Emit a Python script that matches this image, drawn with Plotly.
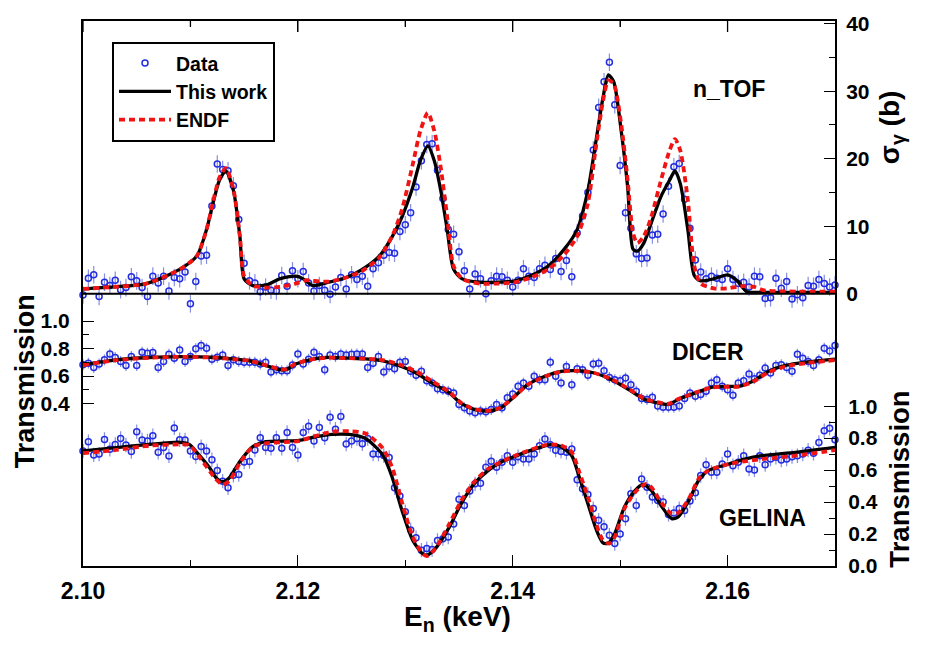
import plotly.graph_objects as go

# ---------------- data ----------------
energy = [round(2.100 + 0.0005 * i, 4) for i in range(141)]  # keV bin centres

sigma_data = [
    -0.2, 2.3, 2.8, -0.4, 1.7, 1.2, 2.0, 0.6, 0.9, 2.5,
    1.9, 0.9, -0.4, 2.6, 1.6, 2.6, 0.4, 2.4, 2.2, 3.2,
    -1.5, 1.8, 5.6, 5.7, 13.0, 19.2, 18.4, 18.2, 16.0, 11.0,
    4.5, 1.9, 1.6, 0.3, 1.0, 0.5, 0.4, 2.7, 1.1, 3.4,
    2.2, 3.3, 1.6, 0.4, 1.2, 0.5, -0.1, 1.0, 2.4, 0.7,
    2.8, 2.1, 2.6, 1.1, 3.7, 4.6, 5.7, 6.1, 6.0, 9.2,
    10.2, 12.0, 15.8, 19.7, 22.1, 22.2, 18.3, 14.1, 9.5, 8.8,
    6.2, 3.4, 0.7, 2.9, 2.2, 0.0, 1.9, 2.6, 2.5, 2.0,
    1.0, 2.0, 3.7, 2.6, 2.4, 3.7, 4.2, 3.6, 5.2, 3.3,
    4.9, 2.5, 9.0, 11.5, 15.0, 21.3, 27.6, 31.4, 34.3, 28.0,
    19.0, 12.0, 9.7, 5.9, 5.2, 5.3, 8.7, 8.8, 11.8, 15.9,
    18.8, 19.3, 14.0, 9.7, 5.0, 3.2, 2.2, 2.6, 2.3, 2.1,
    3.7, 2.1, 1.5, 1.7, 1.0, 2.6, 2.5, -0.7, -0.6, 2.3,
    0.8, 1.8, -0.8, -0.15, -0.6, 1.2, 1.1, 2.1, 1.5, 1.0,
    1.3,
]

dicer_data = [
    0.682, 0.694, 0.663, 0.687, 0.718, 0.761, 0.735, 0.706, 0.677, 0.742,
    0.677, 0.773, 0.766, 0.771, 0.663, 0.706, 0.759, 0.730, 0.790, 0.706,
    0.742, 0.798, 0.822, 0.802, 0.723, 0.737, 0.754, 0.677, 0.718, 0.706,
    0.701, 0.701, 0.701, 0.687, 0.701, 0.629, 0.646, 0.639, 0.639, 0.680,
    0.761, 0.687, 0.723, 0.773, 0.742, 0.646, 0.754, 0.742, 0.761, 0.754,
    0.759, 0.761, 0.761, 0.663, 0.694, 0.742, 0.629, 0.670, 0.653, 0.701,
    0.706, 0.634, 0.605, 0.634, 0.566, 0.550, 0.508, 0.501, 0.489, 0.477,
    0.393, 0.369, 0.345, 0.333, 0.345, 0.340, 0.357, 0.393, 0.369, 0.441,
    0.470, 0.525, 0.549, 0.525, 0.598, 0.573, 0.573, 0.701, 0.598, 0.549,
    0.670, 0.537, 0.653, 0.646, 0.605, 0.687, 0.694, 0.639, 0.590, 0.573,
    0.566, 0.585, 0.537, 0.489, 0.436, 0.429, 0.446, 0.381, 0.373, 0.373,
    0.373, 0.381, 0.436, 0.477, 0.453, 0.465, 0.489, 0.549, 0.573, 0.525,
    0.501, 0.460, 0.549, 0.566, 0.614, 0.581, 0.605, 0.658, 0.622, 0.677,
    0.682, 0.663, 0.634, 0.759, 0.730, 0.706, 0.677, 0.718, 0.802, 0.783,
    0.822,
]

gelina_data = [
    0.720, 0.778, 0.695, 0.700, 0.792, 0.730, 0.760, 0.798, 0.757, 0.716,
    0.840, 0.788, 0.782, 0.815, 0.712, 0.741, 0.689, 0.864, 0.790, 0.788,
    0.720, 0.685, 0.747, 0.720, 0.665, 0.597, 0.531, 0.490, 0.568, 0.572,
    0.650, 0.654, 0.726, 0.802, 0.741, 0.737, 0.802, 0.737, 0.835, 0.741,
    0.695, 0.835, 0.874, 0.782, 0.866, 0.802, 0.930, 0.856, 0.936, 0.763,
    0.782, 0.798, 0.765, 0.798, 0.700, 0.700, 0.691, 0.679, 0.490, 0.438,
    0.340, 0.226, 0.177, 0.099, 0.109, 0.103, 0.160, 0.171, 0.181, 0.263,
    0.418, 0.379, 0.470, 0.514, 0.518, 0.618, 0.655, 0.618, 0.649, 0.690,
    0.649, 0.684, 0.669, 0.669, 0.700, 0.752, 0.794, 0.759, 0.725, 0.717,
    0.711, 0.732, 0.539, 0.483, 0.448, 0.359, 0.286, 0.245, 0.193, 0.141,
    0.200, 0.296, 0.452, 0.379, 0.545, 0.493, 0.431, 0.410, 0.400, 0.323,
    0.332, 0.359, 0.348, 0.406, 0.458, 0.566, 0.634, 0.587, 0.587, 0.638,
    0.700, 0.628, 0.649, 0.690, 0.607, 0.601, 0.690, 0.634, 0.669, 0.680,
    0.663, 0.669, 0.684, 0.690, 0.700, 0.725, 0.705, 0.773, 0.846, 0.862,
    0.790,
]

# uncertainties (constant per data set)
sigma_err = 1.3
dicer_err = 0.04
gelina_err = 0.045

# n_TOF capture cross section curves
ntof_fit_e = [2.1000, 2.1028, 2.1059, 2.1090, 2.1106, 2.1115, 2.1121, 2.1127, 2.1133, 2.1140,
              2.1146, 2.1150, 2.1158, 2.1171, 2.1183, 2.1198, 2.1205, 2.1214, 2.1229, 2.1245,
              2.1260, 2.1276, 2.1288, 2.1297, 2.1307, 2.1314, 2.1321, 2.1327, 2.1333, 2.1339,
              2.1345, 2.1353, 2.1369, 2.1386, 2.1402, 2.1417, 2.1433, 2.1448, 2.1460, 2.1470,
              2.1477, 2.1484, 2.1489, 2.1494, 2.1501, 2.1507, 2.1512, 2.1516, 2.1522, 2.1529,
              2.1538, 2.1546, 2.1551, 2.1556, 2.1563, 2.1569, 2.1575, 2.1587, 2.1600, 2.1609,
              2.1618, 2.1634, 2.1700]
ntof_fit = [0.7, 1.0, 1.5, 3.6, 5.6, 9.5, 13.4, 16.8, 18.2, 15.3,
            8.5, 2.2, 1.2, 1.3, 2.2, 2.6, 2.2, 1.2, 1.7, 2.4,
            3.6, 5.6, 8.5, 11.4, 15.8, 19.7, 21.9, 19.7, 15.3, 9.5,
            3.6, 2.2, 1.7, 1.7, 1.9, 2.7, 4.1, 6.6, 9.5, 15.3,
            22.1, 29.0, 32.4, 31.4, 24.1, 15.8, 6.6, 6.3, 7.5, 10.5,
            14.4, 16.8, 18.2, 16.3, 9.5, 2.7, 1.9, 2.2, 2.8, 1.9,
            0.3, 0.2, 0.2]

ntof_endf_e = [2.1000, 2.1028, 2.1059, 2.1090, 2.1106, 2.1115, 2.1121, 2.1127, 2.1133, 2.1140,
               2.1146, 2.1150, 2.1158, 2.1171, 2.1183, 2.1198, 2.1208, 2.1214, 2.1229, 2.1245,
               2.1260, 2.1276, 2.1288, 2.1297, 2.1307, 2.1314, 2.1321, 2.1327, 2.1333, 2.1339,
               2.1345, 2.1353, 2.1369, 2.1386, 2.1402, 2.1417, 2.1433, 2.1448, 2.1460, 2.1470,
               2.1477, 2.1484, 2.1489, 2.1494, 2.1501, 2.1507, 2.1512, 2.1516, 2.1522, 2.1529,
               2.1538, 2.1546, 2.1551, 2.1556, 2.1563, 2.1569, 2.1575, 2.1587, 2.1600, 2.1612,
               2.1625, 2.1634, 2.1700]
ntof_endf = [0.7, 1.0, 1.5, 3.6, 5.6, 9.5, 13.6, 17.2, 18.6, 15.5,
             8.5, 2.6, 1.2, 0.9, 1.0, 1.5, 2.0, 1.9, 1.8, 2.4,
             3.4, 5.4, 8.6, 12.5, 19.2, 24.1, 26.8, 24.1, 18.7, 11.4,
             4.1, 2.2, 1.5, 1.5, 1.7, 2.4, 3.6, 5.8, 8.5, 13.4,
             21.2, 28.5, 31.6, 31.1, 25.1, 16.8, 9.0, 7.5, 8.5, 11.4,
             16.8, 21.2, 22.9, 21.2, 13.9, 4.1, 1.5, 0.8, 0.8, 1.1,
             1.0, 0.5, 0.3]

# DICER transmission curves
dicer_fit_e = [2.1000, 2.1031, 2.1062, 2.1093, 2.1124, 2.1139, 2.1155, 2.1170, 2.1183, 2.1189,
               2.1198, 2.1211, 2.1226, 2.1248, 2.1263, 2.1279, 2.1294, 2.1310, 2.1325, 2.1341,
               2.1352, 2.1364, 2.1377, 2.1389, 2.1402, 2.1414, 2.1430, 2.1445, 2.1461, 2.1476,
               2.1492, 2.1508, 2.1523, 2.1539, 2.1545, 2.1554, 2.1570, 2.1585, 2.1601, 2.1610,
               2.1623, 2.1638, 2.1654, 2.1673, 2.1700]
dicer_fit = [0.682, 0.718, 0.735, 0.742, 0.735, 0.725, 0.711, 0.677, 0.646, 0.646,
             0.687, 0.718, 0.735, 0.730, 0.725, 0.711, 0.677, 0.622, 0.549, 0.477,
             0.400, 0.357, 0.345, 0.369, 0.453, 0.537, 0.598, 0.634, 0.639, 0.622,
             0.573, 0.501, 0.429, 0.398, 0.393, 0.429, 0.477, 0.518, 0.525, 0.525,
             0.561, 0.634, 0.677, 0.701, 0.723]
dicer_endf = [0.680, 0.716, 0.733, 0.740, 0.733, 0.724, 0.711, 0.680, 0.650, 0.650,
              0.689, 0.718, 0.733, 0.730, 0.727, 0.716, 0.686, 0.634, 0.562, 0.484,
              0.405, 0.360, 0.347, 0.372, 0.455, 0.537, 0.596, 0.632, 0.637, 0.622,
              0.577, 0.506, 0.434, 0.402, 0.397, 0.432, 0.479, 0.516, 0.522, 0.523,
              0.556, 0.627, 0.670, 0.694, 0.716]

# GELINA transmission curves
gelina_fit_e = [2.1000, 2.1031, 2.1062, 2.1090, 2.1099, 2.1108, 2.1118, 2.1124, 2.1130, 2.1136,
                2.1146, 2.1158, 2.1170, 2.1189, 2.1201, 2.1217, 2.1232, 2.1248, 2.1263, 2.1279,
                2.1288, 2.1297, 2.1307, 2.1316, 2.1320, 2.1328, 2.1341, 2.1352, 2.1364, 2.1377,
                2.1389, 2.1402, 2.1414, 2.1430, 2.1436, 2.1445, 2.1455, 2.1462, 2.1470, 2.1478,
                2.1484, 2.1489, 2.1495, 2.1504, 2.1514, 2.1521, 2.1529, 2.1539, 2.1548, 2.1554,
                2.1564, 2.1573, 2.1582, 2.1601, 2.1616, 2.1632, 2.1663, 2.1700]
gelina_fit = [0.720, 0.741, 0.761, 0.774, 0.761, 0.695, 0.613, 0.551, 0.527, 0.551,
              0.654, 0.747, 0.778, 0.782, 0.786, 0.809, 0.823, 0.823, 0.798, 0.695,
              0.551, 0.346, 0.160, 0.078, 0.068, 0.109, 0.243, 0.390, 0.514, 0.597,
              0.649, 0.686, 0.717, 0.752, 0.759, 0.746, 0.690, 0.555, 0.390, 0.224,
              0.145, 0.141, 0.203, 0.369, 0.473, 0.510, 0.473, 0.369, 0.296, 0.307,
              0.410, 0.535, 0.597, 0.638, 0.669, 0.690, 0.711, 0.742]

gelina_endf_e = [2.1000, 2.1031, 2.1062, 2.1090, 2.1099, 2.1108, 2.1124, 2.1130, 2.1136, 2.1146,
                 2.1158, 2.1170, 2.1201, 2.1217, 2.1232, 2.1248, 2.1263, 2.1279, 2.1288, 2.1297,
                 2.1307, 2.1316, 2.1320, 2.1328, 2.1341, 2.1352, 2.1364, 2.1377, 2.1402, 2.1430,
                 2.1439, 2.1445, 2.1455, 2.1462, 2.1470, 2.1478, 2.1484, 2.1490, 2.1495, 2.1504,
                 2.1514, 2.1524, 2.1529, 2.1539, 2.1548, 2.1554, 2.1564, 2.1573, 2.1582, 2.1601,
                 2.1616, 2.1632, 2.1663, 2.1700]
gelina_endf = [0.706, 0.726, 0.753, 0.761, 0.757, 0.685, 0.541, 0.510, 0.531, 0.644,
               0.747, 0.767, 0.782, 0.815, 0.840, 0.844, 0.829, 0.737, 0.613, 0.397,
               0.181, 0.078, 0.062, 0.109, 0.263, 0.407, 0.524, 0.607, 0.690, 0.756,
               0.759, 0.756, 0.711, 0.587, 0.431, 0.255, 0.162, 0.141, 0.182, 0.359,
               0.462, 0.514, 0.493, 0.390, 0.327, 0.332, 0.421, 0.545, 0.597, 0.638,
               0.655, 0.669, 0.690, 0.725]

x_ticks = [2.10, 2.12, 2.14, 2.16]
x_minor = [2.11, 2.13, 2.15]
sigma_ticks = [0, 10, 20, 30, 40]
sigma_minor = [5, 15, 25, 35]
dicer_ticks = [0.4, 0.6, 0.8, 1.0]
dicer_minor = [0.5, 0.7, 0.9]
gelina_ticks = [0.0, 0.2, 0.4, 0.6, 0.8, 1.0]
gelina_minor = [0.1, 0.3, 0.5, 0.7, 0.9]

# ---------------- styling ----------------
FONT = "Liberation Sans, Arial, Helvetica, sans-serif"
BLUE = "rgb(35,45,225)"
ERR = "rgba(95,105,215,0.75)"
W, H = 925, 649
L, R, T, B = 83, 835, 17, 566
PW, PH = R - L, B - T


def px(xp):
    return (xp - L) / PW


def py(yp):
    return (B - yp) / PH


fig = go.Figure()

marker = dict(symbol="circle-open", size=6, color=BLUE, line=dict(width=1.5, color=BLUE))

for yv, err, ax, show in [(sigma_data, sigma_err, "y", True),
                          (dicer_data, dicer_err, "y2", False),
                          (gelina_data, gelina_err, "y3", False)]:
    fig.add_trace(go.Scatter(
        x=energy, y=yv, mode="markers", name="Data", yaxis=ax, showlegend=show,
        legendgroup="data", marker=marker, cliponaxis=False,
        error_y=dict(type="constant", value=err, color=ERR, thickness=1.2, width=0)))

for xe, yv, ax, show in [(ntof_fit_e, ntof_fit, "y", True),
                         (dicer_fit_e, dicer_fit, "y2", False),
                         (gelina_fit_e, gelina_fit, "y3", False)]:
    fig.add_trace(go.Scatter(
        x=xe, y=yv, mode="lines", name="This work", yaxis=ax, showlegend=show,
        legendgroup="fit", line=dict(color="black", width=3.3, shape="spline", smoothing=0.7)))

for xe, yv, ax, show in [(ntof_endf_e, ntof_endf, "y", True),
                         (dicer_fit_e, dicer_endf, "y2", False),
                         (gelina_endf_e, gelina_endf, "y3", False)]:
    fig.add_trace(go.Scatter(
        x=xe, y=yv, mode="lines", name="ENDF", yaxis=ax, showlegend=show,
        legendgroup="endf", line=dict(color="rgb(240,20,20)", width=3.8, dash="6px,4px",
                                      shape="spline", smoothing=0.7)))

# axis scale: sigma 0 at pixel 291.7, 6.8 px per barn
s_lo = -(B - 291.7) / 6.8
s_hi = (291.7 - T) / 6.8
# DICER: 0.4 at pixel 402.3, 138.3 px per unit
d_lo = 0.4 - (B - 402.3) / 138.3
d_hi = 0.4 + (402.3 - T) / 138.3
# GELINA: 0 at bottom, 161 px per unit
g_hi = PH / 161.0

tickfont_y = dict(family=FONT, size=21, color="black", weight="bold")
tickfont_x = dict(family=FONT, size=23, color="black", weight="bold")

fig.update_layout(
    width=W, height=H, autosize=False,
    margin=dict(l=L, r=W - R, t=T, b=H - B, pad=0),
    paper_bgcolor="white", plot_bgcolor="white",
    font=dict(family=FONT, color="black"),
    xaxis=dict(range=[2.10, 2.17], tickvals=x_ticks, ticktext=["%.2f" % v for v in x_ticks],
               ticks="inside", ticklen=11, tickwidth=1.3, tickcolor="black",
               minor=dict(tickvals=x_minor, ticks="inside", ticklen=6, tickwidth=1.3, tickcolor="black"),
               showline=True, linewidth=2, linecolor="black", mirror="ticks",
               showgrid=False, zeroline=False, tickfont=tickfont_x, ticklabelstandoff=3),
    yaxis=dict(range=[s_lo, s_hi], side="right", tickvals=sigma_ticks,
               ticktext=[str(v) for v in sigma_ticks],
               ticks="inside", ticklen=11, tickwidth=1.3, tickcolor="black",
               minor=dict(tickvals=sigma_minor, ticks="inside", ticklen=6, tickwidth=1.3, tickcolor="black"),
               showline=True, linewidth=2, linecolor="black",
               showgrid=False, zeroline=False, tickfont=tickfont_y, ticklabelstandoff=5),
    yaxis2=dict(range=[d_lo, d_hi], side="left", overlaying="y", tickvals=dicer_ticks,
                ticktext=["%.1f" % v for v in dicer_ticks],
                ticks="inside", ticklen=11, tickwidth=1.3, tickcolor="black",
                minor=dict(tickvals=dicer_minor, ticks="inside", ticklen=6, tickwidth=1.3, tickcolor="black"),
                showline=True, linewidth=2, linecolor="black",
                showgrid=False, zeroline=False, tickfont=tickfont_y, ticklabelstandoff=7),
    yaxis3=dict(range=[0, g_hi], side="right", overlaying="y", tickvals=gelina_ticks,
                ticktext=["%.1f" % v for v in gelina_ticks],
                ticks="inside", ticklen=11, tickwidth=1.3, tickcolor="black",
                minor=dict(tickvals=gelina_minor, ticks="inside", ticklen=6, tickwidth=1.3, tickcolor="black"),
                showline=True, linewidth=2, linecolor="black",
                showgrid=False, zeroline=False, tickfont=tickfont_y, ticklabelstandoff=7),
    legend=dict(x=px(112), y=py(38), xanchor="left", yanchor="top",
                bgcolor="white", bordercolor="black", borderwidth=2,
                font=dict(family=FONT, size=19.5, color="black", weight="bold"),
                tracegroupgap=0, itemwidth=52),
    showlegend=True,
)

# separator line at sigma = 0 and top frame ticks
fig.add_shape(type="line", xref="paper", x0=0, x1=1, yref="y", y0=0, y1=0,
              line=dict(color="black", width=2), layer="above")
for xv in x_ticks + x_minor:
    fig.add_shape(type="line", xref="x", x0=xv, x1=xv, yref="paper", y0=1,
                  y1=1 - (11 if xv in x_ticks else 6) / PH,
                  line=dict(color="black", width=1.3), layer="above")

ann_font = dict(family=FONT, color="black", weight="bold")
annotations = [
    dict(text="n_TOF", x=px(729), y=py(85), size=23, angle=0),
    dict(text="DICER", x=px(708), y=py(350), size=23, angle=0),
    dict(text="GELINA", x=px(762), y=py(518), size=23, angle=0),
    dict(text="Transmission", x=px(25), y=py(380), size=27, angle=-90),
    dict(text="Transmission", x=px(900), y=py(479), size=27.5, angle=-90),
    dict(text="σ<sub>γ</sub> (b)", x=px(891), y=py(124), size=28, angle=-90),
    dict(text="E<sub>n</sub> (keV)", x=px(457), y=py(619), size=28, angle=0),
]
for a in annotations:
    fig.add_annotation(text=a["text"], x=a["x"], y=a["y"], xref="paper", yref="paper",
                       xanchor="center", yanchor="middle", showarrow=False,
                       textangle=a["angle"], font=dict(size=a["size"], **ann_font))

fig.write_html("out.html")
